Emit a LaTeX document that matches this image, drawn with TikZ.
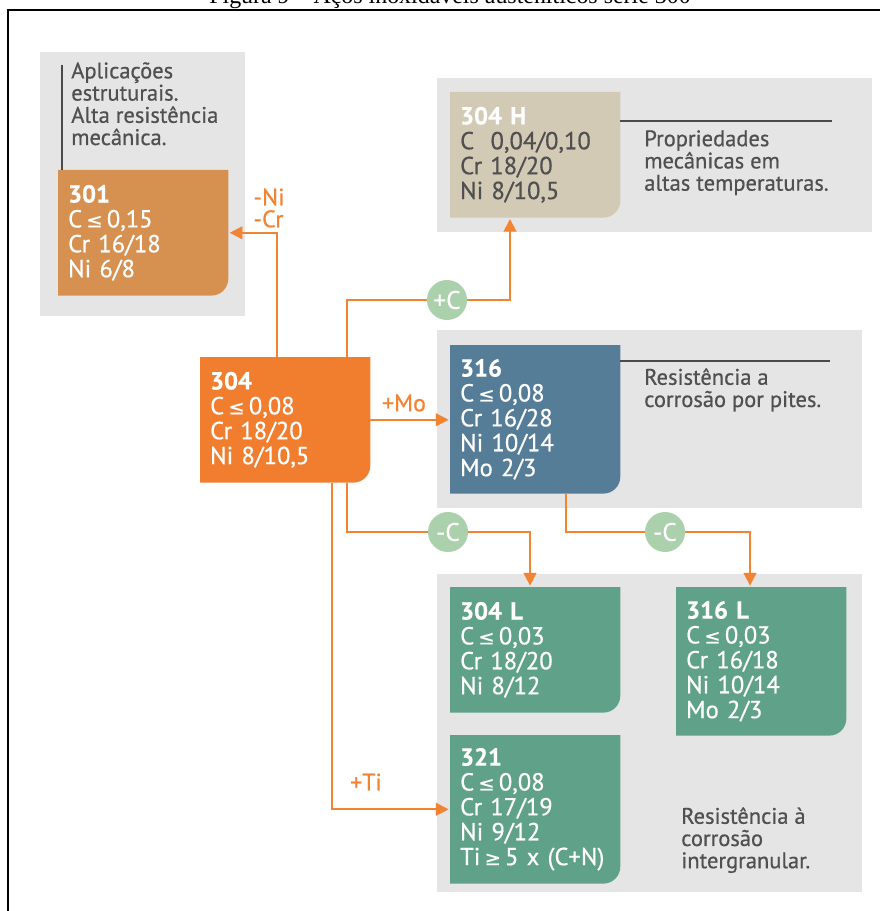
\documentclass[tikz,border=0pt]{standalone}
\usepackage{fontspec}
\setmainfont{PT Sans}
\newfontfamily\heavy{PT Sans}[FakeBold=0.6]
\newfontfamily\capfont{Liberation Serif}
\newfontfamily\symfont{DejaVu Sans}[FakeBold=0.4]
\usetikzlibrary{positioning,calc,arrows.meta,backgrounds}
\definecolor{panelgray}{HTML}{E5E5E5}
\definecolor{c301}{HTML}{D69150}
\definecolor{c304}{HTML}{F17E2E}
\definecolor{c304h}{HTML}{D3CAB6}
\definecolor{c316}{HTML}{567D98}
\definecolor{cgreen}{HTML}{5FA189}
\definecolor{gatefill}{HTML}{ABD0AC}
\definecolor{arroworange}{HTML}{F28333}
\definecolor{descgray}{HTML}{505050}
\definecolor{rulegray}{HTML}{4A4A4A}
\newcommand{\lte}{\,{\symfont\fontsize{14}{14}\selectfont ≤}\,}
\newcommand{\gte}{\,{\symfont\fontsize{14}{14}\selectfont ≥}\,}
% box with one rounded corner (bottom right)
\newcommand{\alloyfill}[2]{\fill[#2] (#1.north west) -- (#1.north east) -- ([yshift=12pt]#1.south east) arc[start angle=0,end angle=-90,radius=12pt] -- (#1.south west) -- cycle;}

\begin{document}
\begin{tikzpicture}[x=0.025cm,y=-0.025cm,
  alloy/.style={anchor=north west, text width=3.75cm, inner xsep=7pt, align=left,
    minimum height=3.125cm, text=white, font=\heavy\fontsize{17.5}{17.7}\selectfont},
  tall/.style={minimum height=3.7cm},
  desc/.style={anchor=north west, align=left, text=descgray, inner sep=0pt,
    font=\heavy\fontsize{16}{15.8}\selectfont},
  tag/.style={text=arroworange, inner sep=0pt, font=\heavy\fontsize{17}{15.5}\selectfont},
  gate/.style={circle, fill=gatefill, minimum size=1cm, inner sep=0pt, text=white,
    font=\heavy\fontsize{18}{18}\selectfont},
  flow/.style={draw=arroworange, line width=1.4pt, shorten >=1pt,
    -{Triangle[length=9pt,width=9pt]}},
  rule/.style={draw=rulegray, line width=1.8pt}]
  \useasboundingbox (0,0) rectangle (880,911);

  % frame and caption
  \node[font=\capfont\fontsize{17}{17}\selectfont, anchor=base] (caption) at (450,4)
    {Figura 9 – Aços inoxidáveis austeníticos série 300};
  \draw[line width=1.5pt] (8,911) -- (8,10) -- (880,10);

  % alloys
  \node[alloy] (n301) at (58,170) {\textbf{301}\\C\lte 0,15\\Cr 16/18\\Ni 6/8};
  \node[alloy] (n304) at (200,357) {\textbf{304}\\C\lte 0,08\\Cr 18/20\\Ni 8/10,5};
  \node[alloy, text=descgray] (n304h) at (450,92)
    {\textcolor{white}{\textbf{304 H}}\\C~~0,04/0,10\\Cr 18/20\\Ni 8/10,5};
  \node[alloy, tall] (n316) at (450,345) {\textbf{316}\\C\lte 0,08\\Cr 16/28\\Ni 10/14\\Mo 2/3};
  \node[alloy] (n304l) at (450,587) {\textbf{304 L}\\C\lte 0,03\\Cr 18/20\\Ni 8/12};
  \node[alloy, tall] (n316l) at (676,587) {\textbf{316 L}\\C\lte 0,03\\Cr 16/18\\Ni 10/14\\Mo 2/3};
  \node[alloy, tall] (n321) at (450,735) {\textbf{321}\\C\lte 0,08\\Cr 17/19\\Ni 9/12\\Ti\gte 5~x~(C+N)};

  % notes
  \node[desc] (aplic) at (71,62) {Aplicações\\estruturais.\\Alta resistência\\mecânica.};
  \node[desc] (propr) at (644,130) {Propriedades\\mecânicas em\\altas temperaturas.};
  \node[desc] (pites) at (644,368) {Resistência a\\corrosão por pites.};
  \node[desc] (interg) at (681,807) {Resistência à\\corrosão\\intergranular.};

  % elements added or removed
  \node[gate] (plusc) at (447,300) {+C};
  \node[gate] (minusc) at (448,532) {-C};
  \node[gate] (minuscb) at (665,532) {-C};
  \node[tag, align=left] (lblni) at (269,208) {-Ni\\-Cr};
  \node[tag] (lblmo) at (404,403) {+Mo};
  \node[tag] (lblti) at (366,782) {+Ti};

  % connectors
  \draw[flow] ($(n304.north west)+(77,0)$) |- (n301.east);
  \draw[flow] (n304.east) -- (n304.east -| n316.west);
  \draw[flow] ($(n304.north west)+(147,0)$) |- (plusc) -| ($(n304h.south west)+(60,0)$);
  \draw[flow] ($(n304.south west)+(147,0)$) |- (minusc) -| ($(n304l.north west)+(80,0)$);
  \draw[flow] ($(n316.south west)+(116,0)$) |- (minuscb) -| ($(n316l.north west)+(74,0)$);
  \draw[flow] ($(n304.south west)+(132,0)$) |- (n321.west);

  \begin{scope}[on background layer]
    \fill[panelgray] (40,52) rectangle (245,316);
    \fill[panelgray] (437,78) rectangle (872,232);
    \fill[panelgray] (437,330) rectangle (862,508);
    \fill[panelgray] (437,574) rectangle (862,892);
    \alloyfill{n301}{c301}
    \alloyfill{n304}{c304}
    \alloyfill{n304h}{c304h}
    \alloyfill{n316}{c316}
    \alloyfill{n304l}{cgreen}
    \alloyfill{n316l}{cgreen}
    \alloyfill{n321}{cgreen}
    \draw[rule] ($(n301.north west)+(4,-105)$) -- ($(n301.north west)+(4,0)$);
    \draw[rule] (n304h.north east) ++(0,29) -- ++(212,0);
    \draw[rule] (n316.north east) ++(0,16) -- ++(210,0);
  \end{scope}
\end{tikzpicture}
\end{document}
